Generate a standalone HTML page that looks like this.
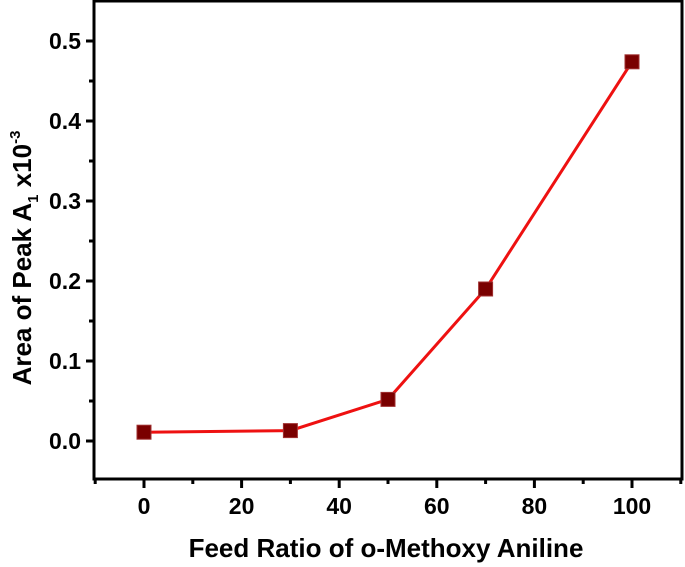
<!DOCTYPE html>
<html><head><meta charset="utf-8"><style>
body{margin:0;background:#fff}
svg{display:block;font-family:"Liberation Sans",Arial,sans-serif;font-weight:bold}
</style></head><body>
<svg id="chart" width="685" height="567" viewBox="0 0 685 567" xmlns="http://www.w3.org/2000/svg">
<g id="axes"></g>
<g id="series"></g>
<text x="386" y="557" font-size="26" text-anchor="middle">Feed Ratio of o-Methoxy Aniline</text>
<text transform="translate(31,258) rotate(-90)" font-size="26" text-anchor="middle">Area of Peak A<tspan font-size="15" dy="7">1</tspan><tspan dy="-7"> x10</tspan><tspan font-size="15" dy="-11">-3</tspan></text>
</svg>
<script>
const xCats=[0,30,50,70,100];
const yVals=[0.011,0.013,0.052,0.19,0.474];
const xTicks=[0,20,40,60,80,100];
const yTicks=[0.0,0.1,0.2,0.3,0.4,0.5];
const L=94,R=682,T=1,B=479;
const xs=v=>144+(v-0)*(632-144)/100;
const ys=v=>441-v*(441-41)/0.5;
const NS="http://www.w3.org/2000/svg";
function mk(t,a,p){const e=document.createElementNS(NS,t);for(const k in a)e.setAttribute(k,a[k]);p.appendChild(e);return e;}
const ax=document.getElementById('axes');
const fr=mk('rect',{x:L,y:T,width:R-L,height:B-T,fill:'none',stroke:'#000','stroke-width':3},ax);


for(let v=-10;v<=110;v+=10){const x=xs(v);if(x<L||x>R)continue;const major=v%20===0;
const t=mk('line',{x1:x,x2:x,y1:B,y2:B+(major?9:5),stroke:'#000','stroke-width':3},ax);

}
xTicks.forEach(v=>{const t=mk('text',{x:xs(v),y:514,'font-size':23,'text-anchor':'middle'},ax);t.textContent=v;

});
for(let i=-1;i<=11;i++){const v=i*0.05;const y=ys(v);if(y<T||y>B)continue;const major=i%2===0;
const t=mk('line',{x1:L,x2:L-(major?8:5),y1:y,y2:y,stroke:'#000','stroke-width':3},ax);

}
yTicks.forEach(v=>{const t=mk('text',{x:81,y:ys(v)+8,'font-size':23,'text-anchor':'end'},ax);t.textContent=v.toFixed(1);

});
const sg=document.getElementById('series');
const pl=mk('polyline',{points:xCats.map((c,i)=>xs(c)+','+ys(yVals[i])).join(' '),fill:'none',stroke:'#ee1111','stroke-width':3},sg);


xCats.forEach((c,i)=>{const m=mk('rect',{x:xs(c)-7,y:ys(yVals[i])-7,width:14,height:14,fill:'#7a0000',stroke:'#a03030','stroke-width':1},sg);

});
</script>
</body></html>
